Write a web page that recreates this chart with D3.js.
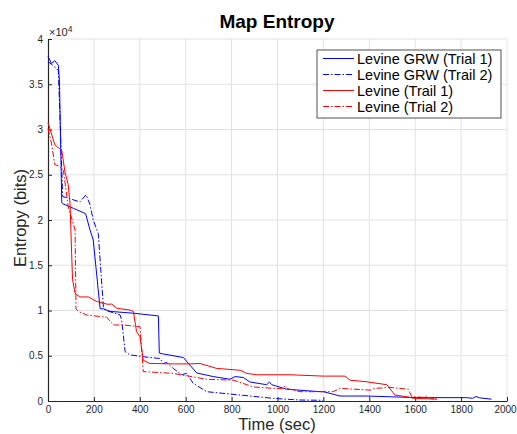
<!DOCTYPE html>
<html><head><meta charset="utf-8">
<script src="https://cdn.jsdelivr.net/npm/d3@7"></script>
<style>body{margin:0;background:#fff}svg{display:block;font-family:"Liberation Sans",Arial,Helvetica,sans-serif}</style>
</head><body><svg id="c" width="517" height="434"></svg>
<script>
const xTicks = [0,200,400,600,800,1000,1200,1400,1600,1800,2000];
const yTicks = [0,5000,10000,15000,20000,25000,30000,35000,40000];
const yTickLabels = ["0","0.5","1","1.5","2","2.5","3","3.5","4"];
const seriesNames = ["Levine GRW (Trial 1)","Levine GRW (Trail 2)","Levine (Trail 1)","Levine (Trial 2)"];

const grw1T = [0,15,30,45,50,60,64,110,164,183,197,227,241,270,372,481,485,502,590,648,720,793,815,851,880,953,965,975,1040,1185,1200,1250,1272,1389,1606,1824,1850,1865,1880,1933];
const grw1E = [38100,37300,37600,37100,35300,21900,21800,21300,20700,18900,17800,10200,10200,9900,9700,9400,5300,5200,4800,3100,2700,2400,2700,2600,2100,1800,2100,1800,1300,1030,1030,700,550,550,370,370,300,500,350,200];

const grw2T = [0,30,45,64,139,166,183,197,219,241,248,314,321,336,357,444,488,502,517,546,582,604,633,691,837,982,1098,1198];
const grw2E = [37500,36900,36500,22600,22000,22800,21700,20000,18500,10500,10050,9500,8950,5450,5100,4800,4700,4150,4250,3600,2900,3050,1950,1030,660,290,110,80];

const lev1T = [0,30,60,74,88,96,103,107,118,139,176,212,256,278,299,357,372,386,401,415,444,546,619,662,735,837,866,909,1055,1200,1294,1316,1381,1476,1512,1563,1592,1694];
const lev1E = [30750,28300,27700,25300,23900,21800,16300,13400,11900,11500,11500,11000,10700,10700,10250,10050,9900,7650,7100,4500,4150,4100,4100,4150,3600,3400,3050,2900,2900,2750,2750,2300,2150,1800,660,480,300,200];

const lev2T = [0,15,30,45,67,88,118,122,132,169,256,285,328,401,415,546,691,808,895,982,1020,1033,1045,1098,1243,1272,1403,1425,1490,1570,1585,1640,1650,1660,1694];
const lev2E = [30100,28500,26100,26000,25500,21500,18900,10200,9900,9500,9250,8400,8400,8200,3250,3050,2400,2300,1550,1400,1350,1660,1350,1030,1030,1400,1200,1400,1500,1300,480,400,550,350,200];

const svg = d3.select("#c");
const L=48,R=507,T=39,B=401;
const x = d3.scaleLinear().domain([0,2000]).range([L,R]);
const y = d3.scaleLinear().domain([0,40000]).range([B,T]);
const txt = "#262626";

// grid
svg.append("g").selectAll("line.v").data(xTicks.slice(1)).join("line")
  .attr("x1",d=>x(d)).attr("x2",d=>x(d)).attr("y1",T).attr("y2",B)
  .attr("stroke","#e2e2e2").attr("stroke-width",1);
svg.append("g").selectAll("line.h").data(yTicks.slice(1)).join("line")
  .attr("x1",L).attr("x2",R).attr("y1",d=>y(d)).attr("y2",d=>y(d))
  .attr("stroke","#e2e2e2").attr("stroke-width",1);

// axes
const xAxis = d3.axisBottom(x).tickValues(xTicks).tickFormat(d3.format("d")).tickSizeInner(-4).tickSizeOuter(0).tickPadding(5);
const gx = svg.append("g").attr("transform",`translate(0,${B})`).call(xAxis);
const yAxis = d3.axisLeft(y).tickValues(yTicks).tickFormat((d,i)=>yTickLabels[i]).tickSizeInner(-4).tickSizeOuter(0).tickPadding(5);
const gy = svg.append("g").attr("transform",`translate(${L},0)`).call(yAxis);
[gx,gy].forEach(g=>{
  g.select(".domain").attr("stroke",txt).attr("stroke-width",1.2);
  g.selectAll(".tick line").attr("stroke",txt);
  g.selectAll("text").attr("fill",txt).attr("font-size",10).attr("font-family","Liberation Sans, Arial, sans-serif");
});
gx.selectAll("text").attr("dy","0.71em");
gx.selectAll(".tick text").filter(d=>d===2000).attr("dx",-2);

// lines
const line = d3.line().x(d=>x(d[0])).y(d=>y(d[1]));
const series = [
  {t:grw1T,e:grw1E,c:"#0000ff",dash:null},
  {t:grw2T,e:grw2E,c:"#0000ff",dash:"6,2,1.5,2"},
  {t:lev1T,e:lev1E,c:"#ff0000",dash:null},
  {t:lev2T,e:lev2E,c:"#ff0000",dash:"6,2,1.5,2"}
];
const plot = svg.append("g");
series.forEach(s=>{
  plot.append("path").datum(s.t.map((t,i)=>[t,s.e[i]]))
    .attr("d",line).attr("fill","none").attr("stroke",s.c).attr("stroke-width",1)
    .attr("stroke-dasharray",s.dash);
});

// exponent
const ex = svg.append("text").attr("x",49).attr("y",36).attr("fill",txt).attr("font-size",11);
ex.append("tspan").text("×10");
ex.append("tspan").attr("font-size",8.5).attr("dy",-4).text("4");

// title and labels
svg.append("text").attr("x",277).attr("y",28).attr("text-anchor","middle")
  .attr("font-size",19).attr("font-weight","bold").attr("fill","#000").text("Map Entropy");
svg.append("text").attr("x",277).attr("y",430).attr("text-anchor","middle")
  .attr("font-size",16.5).attr("fill",txt).text("Time (sec)");
svg.append("text").attr("transform","translate(26,218) rotate(-90)").attr("text-anchor","middle")
  .attr("font-size",16.5).attr("fill",txt).text("Entropy (bits)");

// legend
const lg = svg.append("g");
lg.append("rect").attr("x",317).attr("y",50).attr("width",184).attr("height",68)
  .attr("fill","#fff").attr("stroke",txt).attr("stroke-width",0.8);
series.forEach((s,i)=>{
  const yy = 58.5 + i*16;
  lg.append("line").attr("x1",323).attr("x2",354).attr("y1",yy).attr("y2",yy)
    .attr("stroke",s.c).attr("stroke-width",1).attr("stroke-dasharray",s.dash);
  lg.append("text").attr("x",357).attr("y",yy+5).attr("font-size",14.5).attr("fill","#000").text(seriesNames[i]);
});
</script></body></html>
